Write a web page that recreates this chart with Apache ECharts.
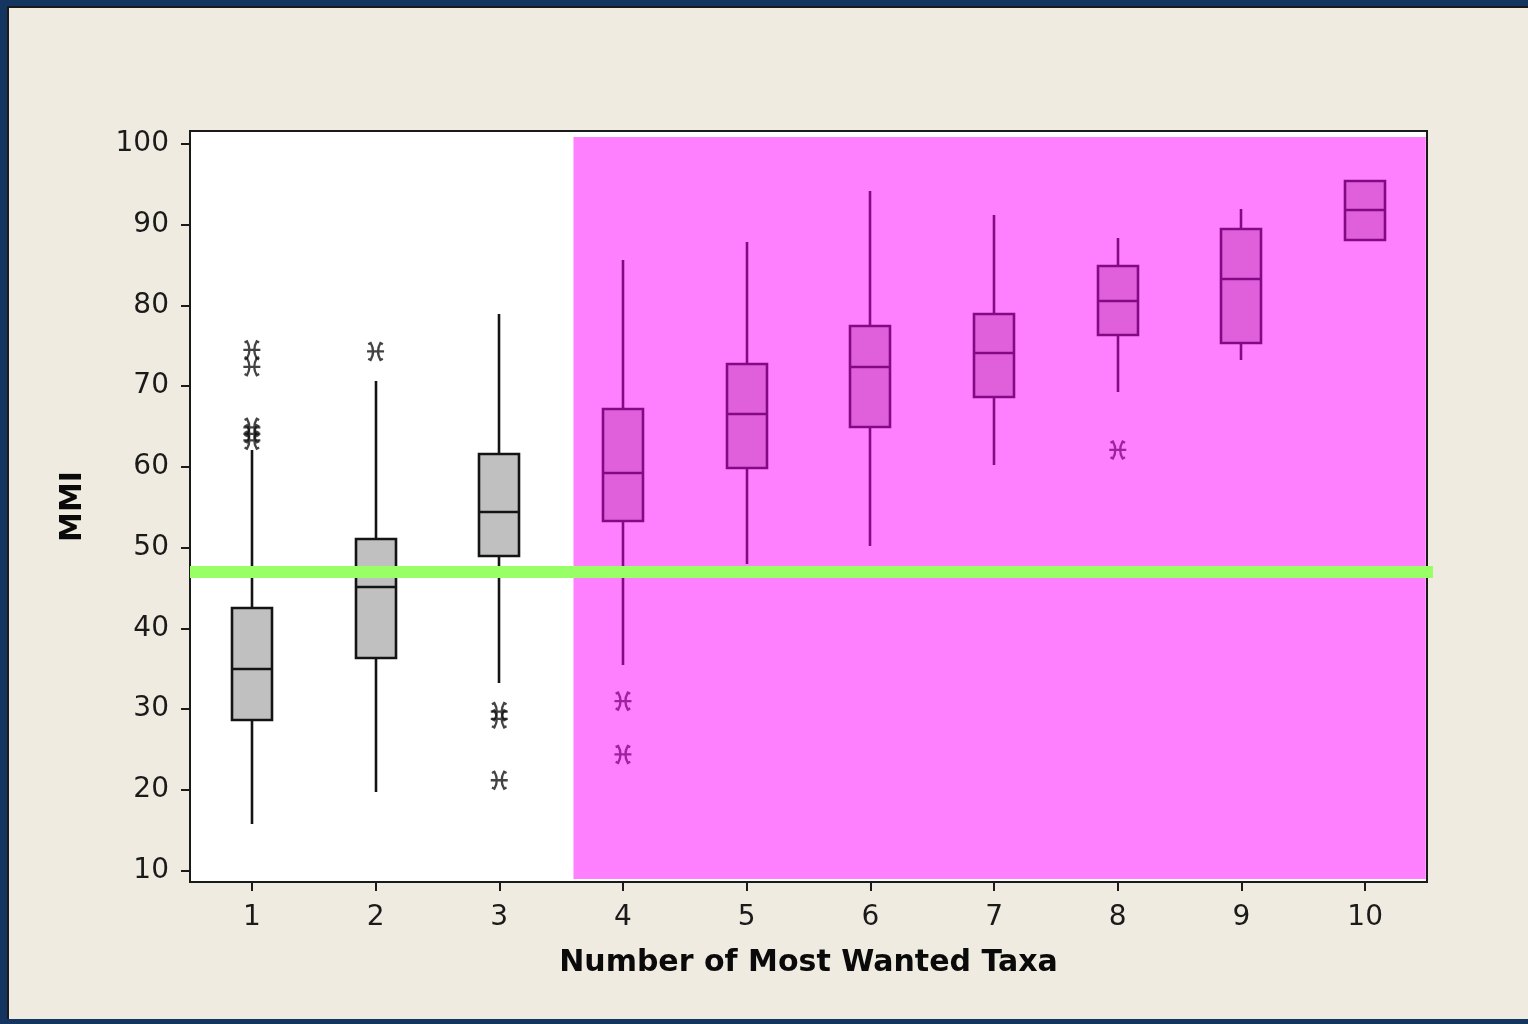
<!DOCTYPE html>
<html><head><meta charset="utf-8">
<script src="https://cdn.jsdelivr.net/npm/echarts@6/dist/echarts.min.js"></script>
<style>
html,body{margin:0;padding:0;width:1528px;height:1024px;overflow:hidden;background:#14355f;}
#panel{position:absolute;left:7px;top:6px;right:0;bottom:5px;background:#efebe1;border-top:2px solid #1a1a1a;border-left:2px solid #1a1a1a;}
#chart{position:absolute;left:0;top:0;width:1528px;height:1024px;}
</style></head><body>
<div id="panel"></div><div id="chart"></div>
<script>
// ---- data ----
const categories  = [1, 2, 3, 4, 5, 6, 7, 8, 9, 10];
const whiskerLow  = [15.8, 19.7, 33.2, 35.5, 48.0, 50.2, 60.2, 69.3, 73.3, 88.1];
const q1          = [28.7, 36.3, 49.0, 53.3, 59.9, 64.9, 68.7, 76.3, 75.3, 88.1];
const median      = [35.0, 45.1, 54.4, 59.3, 66.5, 72.4, 74.1, 80.6, 83.3, 91.8];
const q3          = [42.5, 51.1, 61.6, 67.2, 72.7, 77.4, 79.0, 84.9, 89.5, 95.4];
const whiskerHigh = [62.1, 70.6, 79.0, 85.6, 87.9, 94.2, 91.2, 88.3, 91.9, 95.4];
const outlierCategory = [1, 1, 1, 1, 1, 2, 3, 3, 3, 4, 4, 8];
const outlierValue    = [74.5, 72.4, 64.9, 64.1, 63.3, 74.3, 29.7, 28.8, 21.2, 31.0, 24.4, 62.1];
const yTickLabels = [10, 20, 30, 40, 50, 60, 70, 80, 90, 100];
const xTickLabels = [1, 2, 3, 4, 5, 6, 7, 8, 9, 10];
const thresholdValue = 47.0;
const highlightRegion = [3.6, 8.97, 10.49, 100.87]; // [xFrom, yFrom, xTo, yTo] in data units
const xRange = [0.5, 10.5];
const yRange = [8.6, 101.6];

// ---- build ----
const HILITE_FILL = '#e060dc', HILITE_STROKE = '#840a84';
const PLAIN_FILL = '#c0c0c0', PLAIN_STROKE = '#141414';
const boxData = categories.map((c, i) => [c, whiskerLow[i], q1[i], median[i], q3[i], whiskerHigh[i]]);
const outliers = outlierCategory.map((c, i) => [c, outlierValue[i]]);
const outPlain = outliers.filter(d => d[0] < highlightRegion[0]);
const outHilite = outliers.filter(d => d[0] >= highlightRegion[0]);
const starPath = 'path://M2 2 L4 1 Q8 8 4 15 L2 14 M14 2 L12 1 Q8 8 12 15 L14 14 M1 8 L15 8';

function renderBox(params, api) {
  const x = api.value(0);
  const lo = api.coord([x, api.value(1)]);
  const b1 = api.coord([x, api.value(2)]);
  const md = api.coord([x, api.value(3)]);
  const b3 = api.coord([x, api.value(4)]);
  const hi = api.coord([x, api.value(5)]);
  const half = Math.round(api.size([1, 0])[0] * 0.162);
  const hl = x >= highlightRegion[0];
  const stroke = hl ? HILITE_STROKE : PLAIN_STROKE;
  const fill = hl ? HILITE_FILL : PLAIN_FILL;
  const lw = 2.6;
  const cx = Math.round(lo[0]);
  const yLo = Math.round(lo[1]), y1 = Math.round(b1[1]), yM = Math.round(md[1]), y3 = Math.round(b3[1]), yHi = Math.round(hi[1]);
  const children = [];
  if (yHi < y3) children.push({type: 'line', shape: {x1: cx, y1: yHi, x2: cx, y2: y3}, style: {stroke, lineWidth: lw}});
  if (yLo > y1) children.push({type: 'line', shape: {x1: cx, y1: y1, x2: cx, y2: yLo}, style: {stroke, lineWidth: lw}});
  children.push({type: 'rect', shape: {x: cx - half, y: y3, width: half * 2, height: y1 - y3}, style: {fill, stroke, lineWidth: lw}});
  children.push({type: 'line', shape: {x1: cx - half, y1: yM, x2: cx + half, y2: yM}, style: {stroke, lineWidth: lw}});
  return {type: 'group', children};
}

function renderRegion(params, api) {
  const p0 = api.coord([api.value(0), api.value(1)]);
  const p1 = api.coord([api.value(2), api.value(3)]);
  return {type: 'rect', shape: {x: p0[0], y: p1[1], width: p1[0] - p0[0], height: p0[1] - p1[1]}, style: {fill: '#ff80ff'}};
}

const chart = echarts.init(document.getElementById('chart'), null, {renderer: 'canvas'});
const font = 'DejaVu Sans';
chart.setOption({
  backgroundColor: 'transparent',
  animation: false,
  grid: {left: 190, right: 101, top: 131, bottom: 142, show: true, backgroundColor: '#ffffff', borderColor: '#1a1a1a', borderWidth: 2},
  xAxis: {
    type: 'value', min: xRange[0], max: xRange[1],
    name: 'Number of Most Wanted Taxa', nameLocation: 'middle', nameGap: 66,
    nameTextStyle: {fontFamily: font, fontWeight: 'bold', fontSize: 30, color: '#0a0a0a'},
    axisLine: {show: true, lineStyle: {color: '#1a1a1a', width: 2}},
    axisTick: {show: true, customValues: xTickLabels, length: 9, lineStyle: {color: '#1a1a1a', width: 2}},
    axisLabel: {customValues: xTickLabels, fontFamily: font, fontSize: 28, color: '#1a1a1a', margin: 22},
    splitLine: {show: false}
  },
  yAxis: {
    type: 'value', min: yRange[0], max: yRange[1],
    name: 'MMI', nameLocation: 'middle', nameGap: 102, nameRotate: 90,
    nameTextStyle: {fontFamily: font, fontWeight: 'bold', fontSize: 30, color: '#0a0a0a'},
    axisLine: {show: true, lineStyle: {color: '#1a1a1a', width: 2}},
    axisTick: {show: true, customValues: yTickLabels, length: 9, lineStyle: {color: '#1a1a1a', width: 2}},
    axisLabel: {customValues: yTickLabels, fontFamily: font, fontSize: 28, color: '#1a1a1a', margin: 21},
    splitLine: {show: false}
  },
  series: [
    {type: 'custom', z: 1, silent: true, renderItem: renderRegion, data: [highlightRegion], encode: {x: [0, 2], y: [1, 3]}},
    {type: 'custom', z: 2, renderItem: renderBox, data: boxData, encode: {x: 0, y: [1, 2, 3, 4, 5]}},
    {type: 'scatter', z: 3, data: outPlain, symbol: starPath, symbolSize: 17,
      itemStyle: {color: 'rgba(0,0,0,0)', borderColor: PLAIN_STROKE, borderWidth: 2.3}},
    {type: 'scatter', z: 3, data: outHilite, symbol: starPath, symbolSize: 17,
      itemStyle: {color: 'rgba(0,0,0,0)', borderColor: HILITE_STROKE, borderWidth: 2.3}},
    {type: 'line', z: 5, clip: false, silent: true, symbol: 'none',
      data: [[xRange[0], thresholdValue], [10.58, thresholdValue]],
      lineStyle: {color: '#99ff66', width: 12}}
  ]
});
</script>
</body></html>
